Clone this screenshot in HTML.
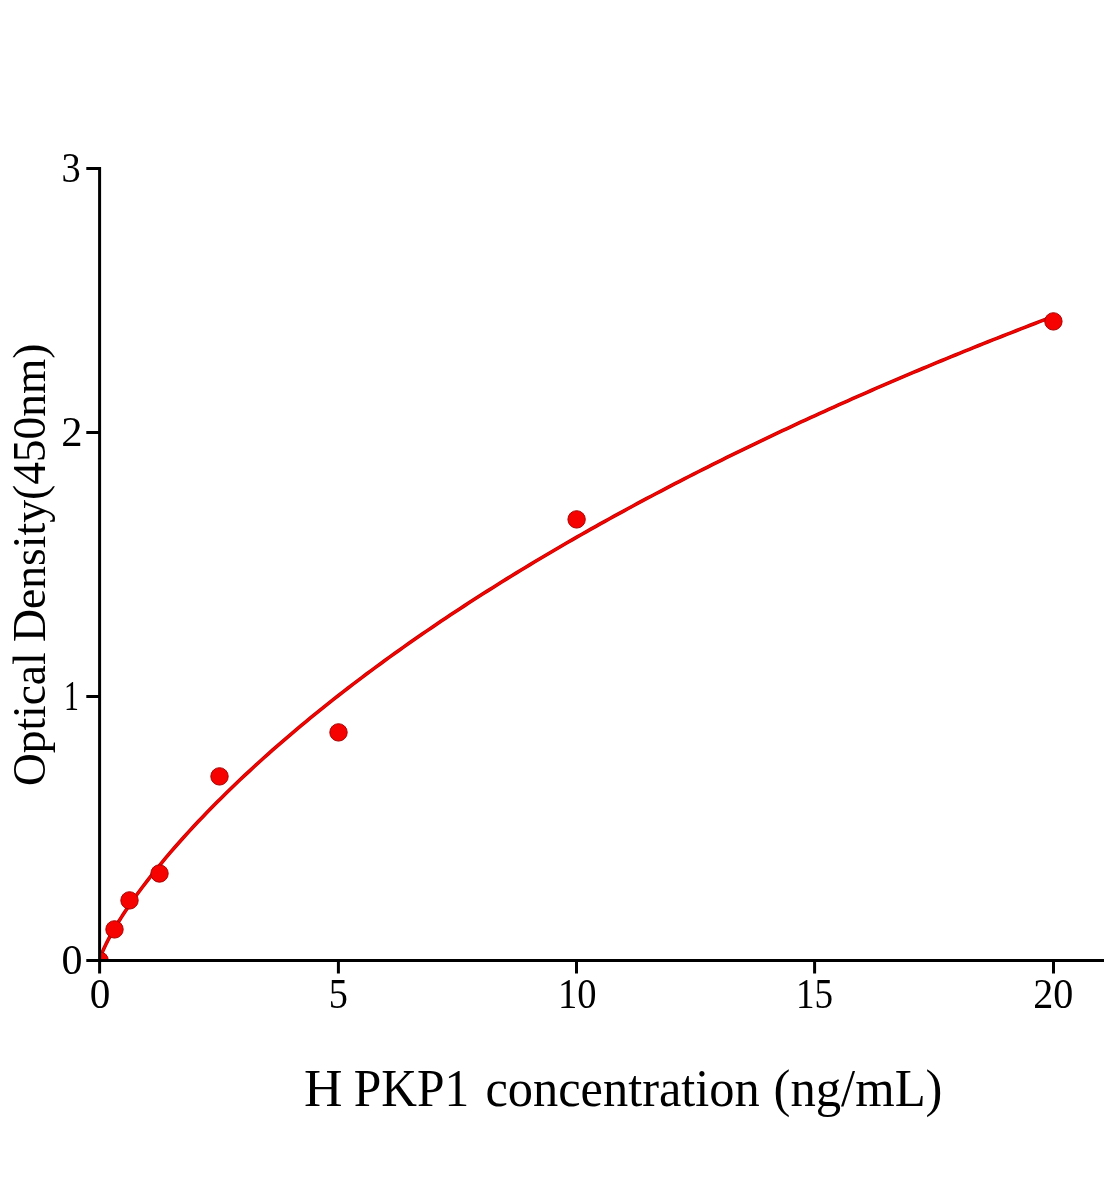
<!DOCTYPE html>
<html><head><meta charset="utf-8"><title>Chart</title>
<style>
html,body{margin:0;padding:0;background:#fff;}
body{width:1104px;height:1200px;overflow:hidden;}
svg{display:block;will-change:transform;}
text{font-family:"Liberation Serif",serif;fill:#000;}
</style></head><body>
<svg width="1104" height="1200" viewBox="0 0 1104 1200">
<rect width="1104" height="1200" fill="#fff"/>
<defs><clipPath id="plot"><rect x="99.6" y="0" width="1104" height="960.5"/></clipPath></defs>
<g clip-path="url(#plot)">
<path d="M99.60,960.50 L100.42,957.33 L101.24,954.98 L102.07,952.86 L102.89,950.88 L103.71,949.00 L104.53,947.20 L105.36,945.46 L106.18,943.76 L107.00,942.12 L107.82,940.51 L108.65,938.93 L109.47,937.39 L110.29,935.87 L111.11,934.38 L111.93,932.91 L112.76,931.46 L113.58,930.03 L114.40,928.62 L115.22,927.23 L116.05,925.85 L116.87,924.49 L117.69,923.14 L118.51,921.81 L119.34,920.49 L120.16,919.18 L120.98,917.88 L121.80,916.60 L122.63,915.32 L123.45,914.06 L128.12,907.06 L132.79,900.32 L137.47,893.81 L142.14,887.49 L146.82,881.35 L151.49,875.36 L156.16,869.51 L160.84,863.79 L165.51,858.18 L170.18,852.68 L174.86,847.28 L179.53,841.98 L184.20,836.76 L188.88,831.63 L193.55,826.57 L198.23,821.58 L202.90,816.67 L207.57,811.83 L212.25,807.04 L216.92,802.32 L221.59,797.66 L226.27,793.06 L230.94,788.51 L235.61,784.01 L240.29,779.56 L244.96,775.16 L249.64,770.81 L254.31,766.50 L258.98,762.24 L263.66,758.02 L268.33,753.85 L273.00,749.71 L277.68,745.61 L282.35,741.55 L287.02,737.53 L291.70,733.54 L296.37,729.59 L301.05,725.68 L305.72,721.79 L310.39,717.94 L315.07,714.13 L319.74,710.34 L324.41,706.58 L329.09,702.86 L333.76,699.16 L338.43,695.49 L343.11,691.85 L347.78,688.24 L352.46,684.66 L357.13,681.10 L361.80,677.57 L366.48,674.06 L371.15,670.58 L375.82,667.12 L380.50,663.69 L385.17,660.28 L389.84,656.90 L394.52,653.54 L399.19,650.20 L403.87,646.88 L408.54,643.58 L413.21,640.31 L417.89,637.06 L422.56,633.83 L427.23,630.62 L431.91,627.42 L436.58,624.25 L441.25,621.10 L445.93,617.97 L450.60,614.86 L455.28,611.76 L459.95,608.69 L464.62,605.63 L469.30,602.59 L473.97,599.57 L478.64,596.56 L483.32,593.58 L487.99,590.61 L492.66,587.65 L497.34,584.72 L502.01,581.80 L506.69,578.89 L511.36,576.01 L516.03,573.13 L520.71,570.28 L525.38,567.44 L530.05,564.61 L534.73,561.80 L539.40,559.01 L544.07,556.22 L548.75,553.46 L553.42,550.71 L558.10,547.97 L562.77,545.24 L567.44,542.53 L572.12,539.84 L576.79,537.16 L581.46,534.49 L586.14,531.83 L590.81,529.19 L595.48,526.56 L600.16,523.94 L604.83,521.34 L609.51,518.75 L614.18,516.17 L618.85,513.60 L623.53,511.05 L628.20,508.50 L632.87,505.97 L637.55,503.46 L642.22,500.95 L646.89,498.45 L651.57,495.97 L656.24,493.50 L660.92,491.04 L665.59,488.59 L670.26,486.15 L674.94,483.72 L679.61,481.30 L684.28,478.90 L688.96,476.50 L693.63,474.12 L698.30,471.74 L702.98,469.38 L707.65,467.03 L712.32,464.68 L717.00,462.35 L721.67,460.03 L726.35,457.71 L731.02,455.41 L735.69,453.12 L740.37,450.83 L745.04,448.56 L749.71,446.29 L754.39,444.04 L759.06,441.79 L763.73,439.55 L768.41,437.33 L773.08,435.11 L777.76,432.90 L782.43,430.70 L787.10,428.51 L791.78,426.32 L796.45,424.15 L801.12,421.98 L805.80,419.83 L810.47,417.68 L815.14,415.54 L819.82,413.41 L824.49,411.28 L829.17,409.17 L833.84,407.06 L838.51,404.97 L843.19,402.88 L847.86,400.79 L852.53,398.72 L857.21,396.65 L861.88,394.59 L866.55,392.54 L871.23,390.50 L875.90,388.47 L880.58,386.44 L885.25,384.42 L889.92,382.41 L894.60,380.40 L899.27,378.40 L903.94,376.41 L908.62,374.43 L913.29,372.46 L917.96,370.49 L922.64,368.53 L927.31,366.57 L931.99,364.62 L936.66,362.68 L941.33,360.75 L946.01,358.82 L950.68,356.91 L955.35,354.99 L960.03,353.09 L964.70,351.19 L969.37,349.30 L974.05,347.41 L978.72,345.53 L983.40,343.66 L988.07,341.79 L992.74,339.93 L997.42,338.08 L1002.09,336.23 L1006.76,334.39 L1011.44,332.56 L1016.11,330.73 L1020.78,328.91 L1025.46,327.09 L1030.13,325.28 L1034.81,323.48 L1039.48,321.68 L1044.15,319.89 L1048.83,318.10 L1053.50,316.32" fill="none" stroke="#be0000" stroke-width="3.6" stroke-linejoin="round"/>
<path d="M99.60,960.50 L100.42,957.33 L101.24,954.98 L102.07,952.86 L102.89,950.88 L103.71,949.00 L104.53,947.20 L105.36,945.46 L106.18,943.76 L107.00,942.12 L107.82,940.51 L108.65,938.93 L109.47,937.39 L110.29,935.87 L111.11,934.38 L111.93,932.91 L112.76,931.46 L113.58,930.03 L114.40,928.62 L115.22,927.23 L116.05,925.85 L116.87,924.49 L117.69,923.14 L118.51,921.81 L119.34,920.49 L120.16,919.18 L120.98,917.88 L121.80,916.60 L122.63,915.32 L123.45,914.06 L128.12,907.06 L132.79,900.32 L137.47,893.81 L142.14,887.49 L146.82,881.35 L151.49,875.36 L156.16,869.51 L160.84,863.79 L165.51,858.18 L170.18,852.68 L174.86,847.28 L179.53,841.98 L184.20,836.76 L188.88,831.63 L193.55,826.57 L198.23,821.58 L202.90,816.67 L207.57,811.83 L212.25,807.04 L216.92,802.32 L221.59,797.66 L226.27,793.06 L230.94,788.51 L235.61,784.01 L240.29,779.56 L244.96,775.16 L249.64,770.81 L254.31,766.50 L258.98,762.24 L263.66,758.02 L268.33,753.85 L273.00,749.71 L277.68,745.61 L282.35,741.55 L287.02,737.53 L291.70,733.54 L296.37,729.59 L301.05,725.68 L305.72,721.79 L310.39,717.94 L315.07,714.13 L319.74,710.34 L324.41,706.58 L329.09,702.86 L333.76,699.16 L338.43,695.49 L343.11,691.85 L347.78,688.24 L352.46,684.66 L357.13,681.10 L361.80,677.57 L366.48,674.06 L371.15,670.58 L375.82,667.12 L380.50,663.69 L385.17,660.28 L389.84,656.90 L394.52,653.54 L399.19,650.20 L403.87,646.88 L408.54,643.58 L413.21,640.31 L417.89,637.06 L422.56,633.83 L427.23,630.62 L431.91,627.42 L436.58,624.25 L441.25,621.10 L445.93,617.97 L450.60,614.86 L455.28,611.76 L459.95,608.69 L464.62,605.63 L469.30,602.59 L473.97,599.57 L478.64,596.56 L483.32,593.58 L487.99,590.61 L492.66,587.65 L497.34,584.72 L502.01,581.80 L506.69,578.89 L511.36,576.01 L516.03,573.13 L520.71,570.28 L525.38,567.44 L530.05,564.61 L534.73,561.80 L539.40,559.01 L544.07,556.22 L548.75,553.46 L553.42,550.71 L558.10,547.97 L562.77,545.24 L567.44,542.53 L572.12,539.84 L576.79,537.16 L581.46,534.49 L586.14,531.83 L590.81,529.19 L595.48,526.56 L600.16,523.94 L604.83,521.34 L609.51,518.75 L614.18,516.17 L618.85,513.60 L623.53,511.05 L628.20,508.50 L632.87,505.97 L637.55,503.46 L642.22,500.95 L646.89,498.45 L651.57,495.97 L656.24,493.50 L660.92,491.04 L665.59,488.59 L670.26,486.15 L674.94,483.72 L679.61,481.30 L684.28,478.90 L688.96,476.50 L693.63,474.12 L698.30,471.74 L702.98,469.38 L707.65,467.03 L712.32,464.68 L717.00,462.35 L721.67,460.03 L726.35,457.71 L731.02,455.41 L735.69,453.12 L740.37,450.83 L745.04,448.56 L749.71,446.29 L754.39,444.04 L759.06,441.79 L763.73,439.55 L768.41,437.33 L773.08,435.11 L777.76,432.90 L782.43,430.70 L787.10,428.51 L791.78,426.32 L796.45,424.15 L801.12,421.98 L805.80,419.83 L810.47,417.68 L815.14,415.54 L819.82,413.41 L824.49,411.28 L829.17,409.17 L833.84,407.06 L838.51,404.97 L843.19,402.88 L847.86,400.79 L852.53,398.72 L857.21,396.65 L861.88,394.59 L866.55,392.54 L871.23,390.50 L875.90,388.47 L880.58,386.44 L885.25,384.42 L889.92,382.41 L894.60,380.40 L899.27,378.40 L903.94,376.41 L908.62,374.43 L913.29,372.46 L917.96,370.49 L922.64,368.53 L927.31,366.57 L931.99,364.62 L936.66,362.68 L941.33,360.75 L946.01,358.82 L950.68,356.91 L955.35,354.99 L960.03,353.09 L964.70,351.19 L969.37,349.30 L974.05,347.41 L978.72,345.53 L983.40,343.66 L988.07,341.79 L992.74,339.93 L997.42,338.08 L1002.09,336.23 L1006.76,334.39 L1011.44,332.56 L1016.11,330.73 L1020.78,328.91 L1025.46,327.09 L1030.13,325.28 L1034.81,323.48 L1039.48,321.68 L1044.15,319.89 L1048.83,318.10 L1053.50,316.32" fill="none" stroke="#f20400" stroke-width="2.2" stroke-linejoin="round"/>
<g fill="#f60200" stroke="#aa0000" stroke-width="1"><circle cx="99.6" cy="960.5" r="8.7"/><circle cx="114.5" cy="929.4" r="8.7"/><circle cx="129.5" cy="900.4" r="8.7"/><circle cx="159.5" cy="873.5" r="8.7"/><circle cx="219.5" cy="776.4" r="8.7"/><circle cx="338.5" cy="732.4" r="8.7"/><circle cx="576.6" cy="519.4" r="8.7"/><circle cx="1053.4" cy="321.4" r="8.7"/></g>
</g>
<g stroke="#000" stroke-width="3" fill="none">
<line x1="99.6" y1="167" x2="99.6" y2="962.0"/>
<line x1="98.1" y1="960.5" x2="1104" y2="960.5"/>
<line x1="99.6" y1="960.5" x2="99.6" y2="973.5"/><line x1="338.4" y1="960.5" x2="338.4" y2="973.5"/><line x1="576.5" y1="960.5" x2="576.5" y2="973.5"/><line x1="814.6" y1="960.5" x2="814.6" y2="973.5"/><line x1="1053.5" y1="960.5" x2="1053.5" y2="973.5"/>
<line x1="86.3" y1="960.5" x2="99.6" y2="960.5"/><line x1="86.3" y1="696.5" x2="99.6" y2="696.5"/><line x1="86.3" y1="432.5" x2="99.6" y2="432.5"/><line x1="86.3" y1="168.5" x2="99.6" y2="168.5"/>
</g>
<text transform="translate(304.07,1106) scale(1.0062,1)" font-size="53">H</text>
<text transform="translate(353.71,1106) scale(0.9332,1)" font-size="53">PKP1</text>
<text transform="translate(485.46,1106) scale(0.9512,1)" font-size="53">concentration</text>
<text transform="translate(773.51,1106) scale(0.9570,1)" font-size="53">(ng/mL)</text>
<text transform="translate(89.67,1007.5) scale(0.9808,1)" font-size="42">0</text>
<text transform="translate(328.66,1007.5) scale(0.9098,1)" font-size="42">5</text>
<text transform="translate(557.91,1007.5) scale(0.9178,1)" font-size="42">10</text>
<text transform="translate(795.93,1007.5) scale(0.8834,1)" font-size="42">15</text>
<text transform="translate(1033.20,1007.5) scale(0.9555,1)" font-size="42">20</text>
<text transform="translate(61.57,974.0) scale(1.0000,1)" font-size="42">0</text>
<text transform="translate(64.04,710.0) scale(0.7096,1)" font-size="42">1</text>
<text transform="translate(61.25,446.0) scale(1.0158,1)" font-size="42">2</text>
<text transform="translate(61.43,182.0) scale(0.9134,1)" font-size="42">3</text>
<text transform="translate(45.2,786.04) rotate(-90) scale(0.9877,1)" font-size="46">Optical</text>
<text transform="translate(45.2,642.03) rotate(-90) scale(0.9929,1)" font-size="46">Density</text>
<text transform="translate(45.2,499.98) rotate(-90) scale(0.9876,1)" font-size="46">(450nm)</text>
</svg>
</body></html>
